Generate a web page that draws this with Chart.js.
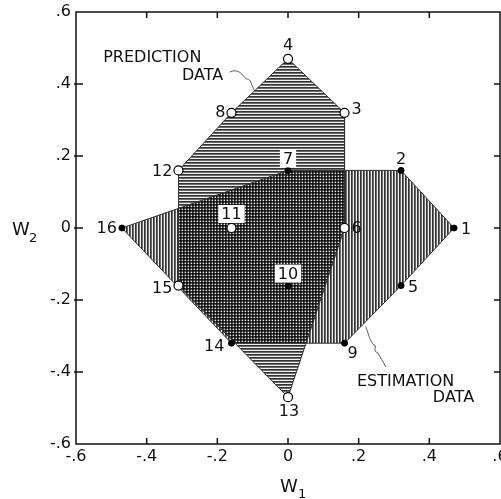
<!DOCTYPE html>
<html>
<head>
<meta charset="utf-8">
<script src="https://cdn.jsdelivr.net/npm/chart.js@4.4.0/dist/chart.umd.min.js"></script>
<style>
  html, body { margin: 0; padding: 0; background: #fff; overflow: hidden; }
  canvas { display: block; }
</style>
</head>
<body>
<!-- a little wider than the window so the clipped ".6" label does not shrink the plot -->
<canvas id="wChart" width="520" height="499"></canvas>
<script>
// point numbers and their coordinates (W1, W2)
const pointIds = [1, 2, 3, 4, 5, 6, 7, 8, 9, 10, 11, 12, 13, 14, 15, 16];
const w1 = [0.47, 0.32, 0.16, 0, 0.32, 0.16, 0, -0.16, 0.16, 0, -0.16, -0.31, 0, -0.16, -0.31, -0.47];
const w2 = [0, 0.16, 0.32, 0.47, -0.16, 0, 0.16, 0.32, -0.32, -0.16, 0, 0.16, -0.47, -0.32, -0.16, 0];

// which points belong to which data set, and the hull of each set
const predictionIds = [3, 4, 6, 8, 11, 12, 13, 15];
const estimationIds = [1, 2, 5, 7, 9, 10, 14, 16];
const predictionHull = [4, 3, 6, 13, 15, 12, 8];
const estimationHull = [1, 2, 7, 16, 14, 9, 5];

const tickValues = [-0.6, -0.4, -0.2, 0, 0.2, 0.4, 0.6];

const pt = id => ({x: w1[id - 1], y: w2[id - 1]});
const closed = ids => ids.concat(ids[0]).map(pt);

const canvas = document.getElementById('wChart');
const ctx = canvas.getContext('2d');

function hatch(vertical) {
  const c = document.createElement('canvas');
  c.width = 3; c.height = 3;
  const g = c.getContext('2d');
  const shades = ['#333333', '#6a6a6a', '#f0f0f0'];
  shades.forEach((s, i) => {
    g.fillStyle = s;
    if (vertical) g.fillRect(i, 0, 1, 3); else g.fillRect(0, i, 3, 1);
  });
  return ctx.createPattern(c, 'repeat');
}

const fmt = v => {
  if (Math.abs(v) < 1e-9) return '0';
  return v.toFixed(1).replace('0.', '.');
};

// label placement next to each point: dx, dy, align, white box
const labelPlace = {
  1: [7, 1, 'left'], 2: [0, -12, 'center'], 3: [7, -4, 'left'], 4: [0, -14, 'center'],
  5: [7, 1, 'left'], 6: [7, 0, 'left'], 7: [0, -12, 'center', true], 8: [-6, -1, 'right'],
  9: [3, 10, 'left'], 10: [0, -12, 'center', true], 11: [0, -14, 'center', true],
  12: [-6, 0, 'right'], 13: [1, 14, 'center'], 14: [-7, 3, 'right'], 15: [-6, 2, 'right'],
  16: [-5, 0, 'right']
};

const FONT = '"DejaVu Sans", sans-serif';

// hatch fills are multiplied so the overlap turns into a dark cross-hatch
const blendPlugin = {
  id: 'blend',
  beforeDraw(chart) { chart.ctx.globalCompositeOperation = 'multiply'; },
  beforeDatasetsDraw(chart) { chart.ctx.globalCompositeOperation = 'source-over'; }
};

const decorPlugin = {
  id: 'decor',
  afterDatasetsDraw(chart) {
    const c = chart.ctx;
    const xs = chart.scales.x, ys = chart.scales.y;
    const a = chart.chartArea;
    const X = v => xs.getPixelForValue(v), Y = v => ys.getPixelForValue(v);
    c.save();
    c.globalCompositeOperation = 'source-over';

    // frame and inward ticks
    c.strokeStyle = '#111';
    c.lineWidth = 1.5;
    c.strokeRect(a.left, a.top, a.right - a.left, a.bottom - a.top);
    c.beginPath();
    tickValues.slice(1, -1).forEach(v => {
      c.moveTo(X(v), a.bottom); c.lineTo(X(v), a.bottom - 6);
      c.moveTo(X(v), a.top); c.lineTo(X(v), a.top + 6);
      c.moveTo(a.left - 2, Y(v)); c.lineTo(a.left + 7, Y(v));
      c.moveTo(a.right, Y(v)); c.lineTo(a.right - 6, Y(v));
    });
    c.stroke();

    // point numbers
    c.font = '16px ' + FONT;
    c.textBaseline = 'middle';
    pointIds.forEach(id => {
      const [dx, dy, align, boxed] = labelPlace[id];
      const px = X(w1[id - 1]) + dx, py = Y(w2[id - 1]) + dy;
      const txt = String(id);
      c.textAlign = align;
      if (boxed) {
        const w = c.measureText(txt).width;
        c.fillStyle = '#fff';
        c.fillRect(px - w / 2 - 3, py - 9, w + 6, 18);
      }
      c.fillStyle = '#111';
      c.fillText(txt, px, py + 1);
    });

    // annotations
    c.textAlign = 'left';
    c.font = '16px ' + FONT;
    c.fillText('PREDICTION', X(-0.523), Y(0.473));
    c.fillText('DATA', X(-0.30), Y(0.422));
    c.fillText('ESTIMATION', X(0.195), Y(-0.428));
    c.fillText('DATA', X(0.41), Y(-0.472));

    c.lineWidth = 0.8;
    c.strokeStyle = '#333';
    // prediction leader
    let sx = X(-0.165), sy = Y(0.433), ex = X(-0.096), ey = Y(0.383);
    c.beginPath();
    c.moveTo(sx, sy);
    c.bezierCurveTo(sx + 8, sy - 4, sx + 12, sy + 2, sx + 14, sy + 4);
    c.bezierCurveTo(sx + 16, sy + 8, sx + 20, sy + 6, sx + 21, sy + 10);
    c.lineTo(ex, ey);
    c.stroke();
    // estimation leader
    sx = X(0.277); sy = Y(-0.386); ex = X(0.220); ey = Y(-0.274);
    c.beginPath();
    c.moveTo(sx, sy);
    c.bezierCurveTo(sx - 3, sy - 6, sx - 6, sy - 10, sx - 8, sy - 14);
    c.bezierCurveTo(sx - 14, sy - 16, sx - 8, sy - 22, sx - 12, sy - 22);
    c.bezierCurveTo(sx - 16, sy - 26, sx - 17, sy - 32, ex, ey);
    c.stroke();

    // axis titles
    c.fillStyle = '#111';
    c.textBaseline = 'alphabetic';
    c.font = '18px ' + FONT;
    c.fillText('W', 12, 235);
    c.fillText('W', 280, 492);
    c.font = '13px ' + FONT;
    c.fillText('2', 29, 242);
    c.fillText('1', 298, 498);
    c.restore();
  }
};

new Chart(ctx, {
  type: 'scatter',
  data: {
    datasets: [
      {
        label: 'Prediction hull',
        data: closed(predictionHull),
        showLine: true,
        fill: 'shape',
        backgroundColor: hatch(false),
        borderColor: '#333',
        borderWidth: 1,
        pointRadius: 0,
        order: 2
      },
      {
        label: 'Estimation hull',
        data: closed(estimationHull),
        showLine: true,
        fill: 'shape',
        backgroundColor: hatch(true),
        borderColor: '#333',
        borderWidth: 1,
        pointRadius: 0,
        order: 2
      },
      {
        label: 'Estimation data',
        data: estimationIds.map(pt),
        pointRadius: 3,
        backgroundColor: '#000',
        borderColor: '#000',
        borderWidth: 1,
        order: 0
      },
      {
        label: 'Prediction data',
        data: predictionIds.map(pt),
        pointRadius: 4.5,
        backgroundColor: '#fff',
        borderColor: '#000',
        borderWidth: 1.2,
        order: 0
      }
    ]
  },
  options: {
    responsive: false,
    animation: false,
    devicePixelRatio: 1,
    layout: {padding: {top: 12, right: 20, bottom: 0, left: 0}},
    plugins: {
      legend: {display: false},
      tooltip: {enabled: false},
      filler: {drawTime: 'beforeDatasetsDraw'}
    },
    scales: {
      x: {
        type: 'linear',
        min: -0.6,
        max: 0.6,
        afterBuildTicks: s => { s.ticks = tickValues.map(v => ({value: v})); },
        afterFit: s => { s.height = 55; },
        grid: {display: false, drawTicks: false},
        border: {display: false},
        ticks: {callback: fmt, font: {family: FONT, size: 16}, color: '#111', padding: 3, maxRotation: 0}
      },
      y: {
        type: 'linear',
        min: -0.6,
        max: 0.6,
        afterBuildTicks: s => { s.ticks = tickValues.map(v => ({value: v})); },
        afterFit: s => { s.width = 76; s.paddingTop = 0; s.paddingBottom = 0; },
        grid: {display: false, drawTicks: false},
        border: {display: false},
        ticks: {callback: fmt, font: {family: FONT, size: 16}, color: '#111', padding: 5}
      }
    }
  },
  plugins: [blendPlugin, decorPlugin]
});
</script>
</body>
</html>
